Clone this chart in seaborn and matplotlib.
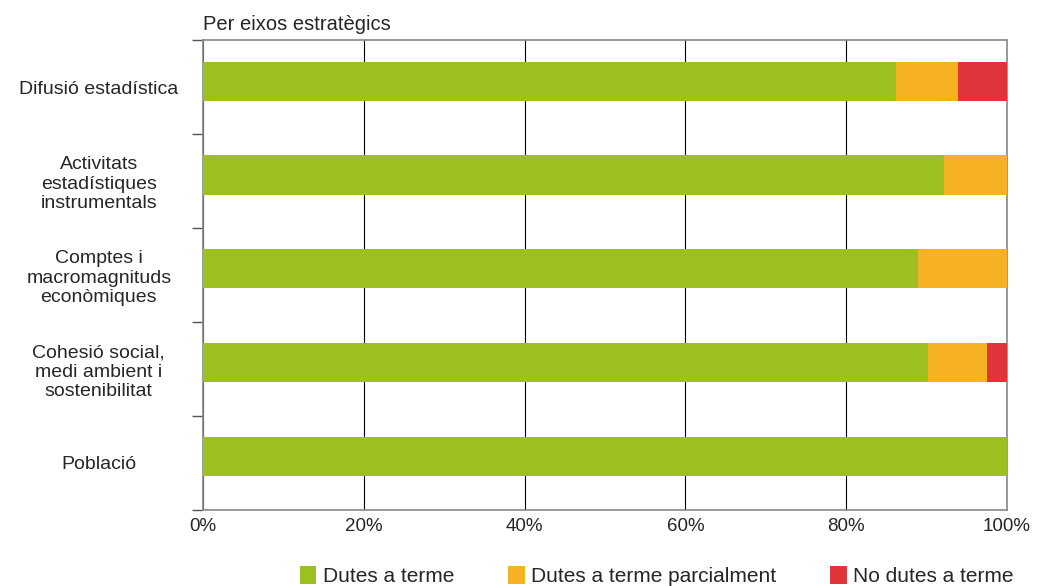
import matplotlib
matplotlib.use("Agg")
import matplotlib.pyplot as plt
import seaborn as sns
import pandas as pd
from matplotlib.patches import Patch

# dades llegides del grafic (percentatges)
eixos = [
    "Difusió estadística",
    "Activitats\nestadístiques\ninstrumentals",
    "Comptes i\nmacromagnituds\neconòmiques",
    "Cohesió social,\nmedi ambient i\nsostenibilitat",
    "Població",
]
dutes = [86.2, 92.2, 88.9, 90.2, 100.0]
parcials = [7.7, 7.8, 11.1, 7.3, 0.0]
no_dutes = [6.1, 0.0, 0.0, 2.5, 0.0]

series = ["Dutes a terme", "Dutes a terme parcialment", "No dutes a terme"]
colors = ["#9BC01F", "#F7B223", "#E0353B"]

df = pd.DataFrame({"eix": eixos, "dutes": dutes, "parcials": parcials, "no_dutes": no_dutes})
df["c1"] = df["dutes"]
df["c2"] = df["c1"] + df["parcials"]
df["c3"] = df["c2"] + df["no_dutes"]

sns.set_style("white")
plt.rcParams["font.family"] = ["Liberation Sans", "DejaVu Sans"]

fig = plt.figure(figsize=(10.56, 5.86), dpi=100)
ax = fig.add_axes([0.1922, 0.1297, 0.7614, 0.802])

# barres apilades: de la suma total cap a la primera serie
for col, color in zip(["c3", "c2", "c1"], colors[::-1]):
    sns.barplot(data=df, x=col, y="eix", order=eixos, color=color,
                width=0.415, saturation=1, linewidth=0, edgecolor="none",
                ax=ax, zorder=3)

# les barres queden una mica per sobre del centre de cada franja
d = 0.064
n = len(eixos)
ax.set_xlim(0, 100)
ax.set_ylim(n - 0.5 + d, -0.5 + d)
ax.set_xticks([0, 20, 40, 60, 80, 100])
ax.set_xticklabels(["0%", "20%", "40%", "60%", "80%", "100%"], fontsize=13.5)
ax.set_xlabel("")
ax.set_ylabel("")
ax.xaxis.grid(True, color="black", linewidth=0.8, zorder=0)
ax.set_axisbelow(True)

ax.set_yticks([i + d for i in range(n)])
ax.set_yticklabels(eixos, fontsize=14, ha="center", multialignment="center")
ax.tick_params(axis="y", which="major", left=False, length=0, pad=75)
ax.set_yticks([i - 0.5 + d for i in range(n + 1)], minor=True)
ax.tick_params(axis="y", which="minor", left=True, length=8, color="#555555", width=1)
ax.tick_params(axis="x", length=0, pad=6)

for s in ax.spines.values():
    s.set_color("#888888")
    s.set_linewidth(1.2)

fig.text(0.1922, 0.958, "Per eixos estratègics", fontsize=14.5, ha="left", va="center")

handles = [Patch(facecolor=c, edgecolor="none") for c in colors]
fig.legend(handles, series, loc="center", bbox_to_anchor=(0.622, 0.017), ncol=3,
           frameon=False, fontsize=15, handlelength=0.8, handleheight=1.0,
           handletextpad=0.3, columnspacing=2.6)

fig.savefig("out.png", dpi=100)
